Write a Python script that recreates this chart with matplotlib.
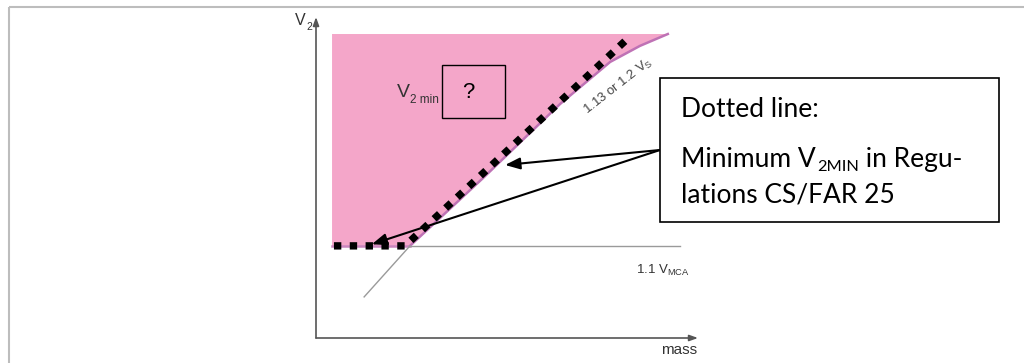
import matplotlib
matplotlib.use("Agg")
import matplotlib.pyplot as plt
from matplotlib.patches import Rectangle, Polygon

plt.rcParams['font.family'] = ['Liberation Sans', 'DejaVu Sans']
plt.rcParams['mathtext.fontset'] = 'custom'
plt.rcParams['mathtext.rm'] = 'Liberation Sans'
plt.rcParams['mathtext.it'] = 'Liberation Sans'

# ---- data (notional units: mass 0-100, V2 0-100) ----
stall_mass = [12.6, 24.6, 43.7, 63.9, 77.0, 84.8, 92.1]
stall_v2 = [12.8, 28.7, 49.8, 72.9, 86.0, 91.0, 94.7]
vmca_level = 28.7
vmca_mass = [24.6, 95.3]
region_left = 4.2
region_top = 94.7
dotted_mass = [4.7, 23.3, 80.9]
dotted_v2 = [28.7, 28.7, 92.5]
arrow_targets = [(49.5, 53.9), (14.6, 29.2)]
callout_lines = ['Dotted line:', 'Minimum V', '2MIN', ' in Regu-', 'lations CS/FAR 25']

W, H = 1024, 363
fig = plt.figure(figsize=(W / 100, H / 100), dpi=100)
r = fig.canvas.get_renderer()

# inner chart axes
x0, x1, y0, y1 = 316, 698, 338, 17
ax = fig.add_axes([x0 / W, (H - y0) / H, (x1 - x0) / W, (y0 - y1) / H])
ax.set_xlim(0, 100)
ax.set_ylim(0, 100)
ax.axis('off')
ax.patch.set_alpha(0)

# overlay axes in pixel coordinates (on top)
ov = fig.add_axes([0, 0, 1, 1])
ov.set_xlim(0, W)
ov.set_ylim(H, 0)
ov.axis('off')
ov.patch.set_alpha(0)


def sub_text(x, y, main, sub, fs_main, fs_sub, dy, color, **kw):
    t = ov.text(x, y, main, fontsize=fs_main, color=color, ha='left', va='baseline', **kw)
    w = t.get_window_extent(renderer=r).width
    ov.text(x + w + 0.5, y + dy, sub, fontsize=fs_sub, color=color, ha='left', va='baseline', **kw)


# page frame (top and left gray lines)
ov.plot([9, W], [7, 7], color='#bdbdbd', lw=1.5, solid_capstyle='butt')
ov.plot([9, 9], [7, H], color='#bdbdbd', lw=1.5, solid_capstyle='butt')

# pink region
poly_pts = [(region_left, region_top), (region_left, vmca_level)]
poly_pts += [(m, v) for m, v in zip(stall_mass[1:], stall_v2[1:])]
ax.add_patch(Polygon(poly_pts, closed=True, facecolor='#f4a6c9', edgecolor='none', zorder=1))

# purple boundary lines
ax.plot(stall_mass[1:], stall_v2[1:], color='#bf72b5', lw=1.8, zorder=2)
ax.plot([region_left, stall_mass[1]], [vmca_level, vmca_level], color='#c985bd', lw=1.8, zorder=2)

# gray reference lines
ax.plot(vmca_mass, [vmca_level, vmca_level], color='#9a9a9a', lw=1.0, zorder=2)
ax.plot(stall_mass[:2], stall_v2[:2], color='#9a9a9a', lw=1.0, zorder=2)

# dotted line (square dots)
ax.plot(dotted_mass, dotted_v2, color='black', lw=5.3, linestyle=(0, (1.0, 1.15)),
        dash_capstyle='butt', solid_joinstyle='miter', zorder=4)

# axes with arrows
ax.annotate('', xy=(0, 100), xytext=(0, 0), xycoords='data',
            arrowprops=dict(arrowstyle='-|>,head_length=0.5,head_width=0.18', color='#555555',
                            lw=1.2, shrinkA=0, shrinkB=0), annotation_clip=False)
ax.annotate('', xy=(100, 0), xytext=(0, 0), xycoords='data',
            arrowprops=dict(arrowstyle='-|>,head_length=0.5,head_width=0.18', color='#555555',
                            lw=1.2, shrinkA=0, shrinkB=0), annotation_clip=False)

# axis labels
sub_text(295, 25, 'V', '2', 11.5, 7.5, 5, '#333333')
ov.text(697, 350, 'mass', fontsize=11, color='#333333', ha='right', va='center')

# V2 min box
sub_text(397, 97, 'V', '2 min', 14, 8.5, 6, '#333333')
ov.add_patch(Rectangle((442, 65), 63, 53, facecolor='none', edgecolor='black', lw=1.0, zorder=3))
ov.text(468, 93, '?', fontsize=16, color='black', ha='center', va='center')

# curve labels
ov.text(618, 86, r'1.13 or 1.2 V$_\mathrm{S}$', fontsize=9.5, color='#444444', rotation=38,
        ha='center', va='center', rotation_mode='anchor')
ov.text(690, 270, r'1.1 V$_\mathrm{MCA}$', fontsize=9.5, color='#333333', ha='right', va='center')

# callout box
ov.add_patch(Rectangle((660, 78), 339, 144, facecolor='white', edgecolor='black', lw=1.2, zorder=3))
cf = dict(family='Lato', color='black', va='baseline', ha='left', zorder=5)
fs = 19
ov.text(681, 117, callout_lines[0], fontsize=fs, **cf)
t1 = ov.text(681, 167, callout_lines[1], fontsize=fs, **cf)
w1 = t1.get_window_extent(renderer=r).width
t2 = ov.text(681 + w1 + 1, 171, callout_lines[2], fontsize=fs * 0.62, **cf)
w2 = t2.get_window_extent(renderer=r).width
ov.text(681 + w1 + 1 + w2, 167, callout_lines[3], fontsize=fs, **cf)
ov.text(681, 203, callout_lines[4], fontsize=fs, **cf)

# arrows from callout
for tx, ty in arrow_targets:
    ax.annotate('', xy=(tx, ty), xycoords='data', xytext=(660, 150), textcoords=ov.transData,
                arrowprops=dict(arrowstyle='-|>,head_length=0.9,head_width=0.35', color='black',
                                lw=1.5, shrinkA=0, shrinkB=0), annotation_clip=False, zorder=6)

fig.savefig('out.png', dpi=100)
